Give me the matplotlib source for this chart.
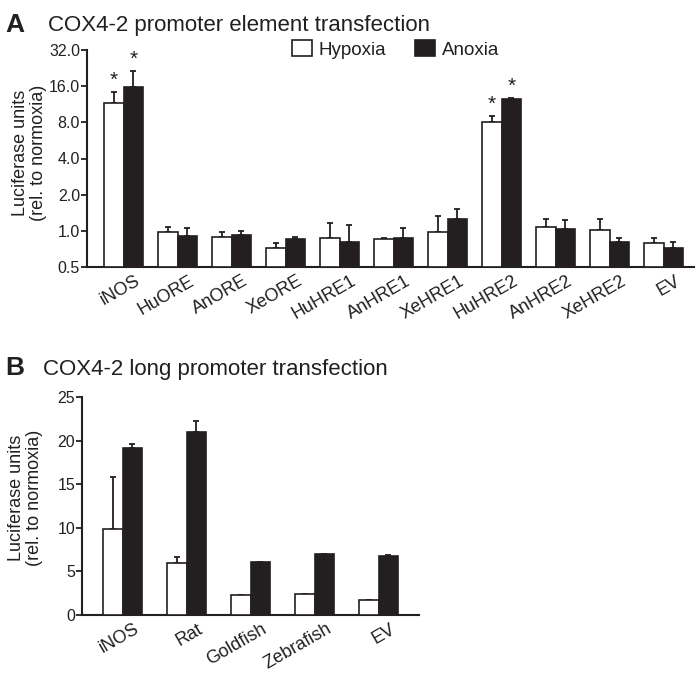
import numpy as np
import matplotlib
matplotlib.use("Agg")
import matplotlib.pyplot as plt
import matplotlib.transforms as mtransforms
from matplotlib.patches import Patch

plt.rcParams['font.family'] = ['Liberation Sans', 'DejaVu Sans']

DARK = "#231f20"

# Panel A: promoter elements (log2 axis)
elements = ["iNOS", "HuORE", "AnORE", "XeORE", "HuHRE1", "AnHRE1",
            "XeHRE1", "HuHRE2", "AnHRE2", "XeHRE2", "EV"]
hyp_a = [11.5, 0.98, 0.89, 0.72, 0.88, 0.85, 0.98, 8.0, 1.07, 1.01, 0.79]
hyp_a_err = [14.2, 1.07, 0.97, 0.79, 1.16, 0.87, 1.33, 9.0, 1.25, 1.25, 0.87]
ano_a = [15.7, 0.905, 0.92, 0.85, 0.81, 0.87, 1.25, 12.5, 1.03, 0.81, 0.72]
ano_a_err = [21.3, 1.06, 1.0, 0.89, 1.12, 1.06, 1.52, 12.7, 1.23, 0.87, 0.81]
sig_hyp_a = [True, False, False, False, False, False, False, True, False, False, False]
sig_ano_a = [True, False, False, False, False, False, False, True, False, False, False]
yticks_a = [0.5, 1.0, 2.0, 4.0, 8.0, 16.0, 32.0]

# Panel B: long promoters (linear axis)
promoters = ["iNOS", "Rat", "Goldfish", "Zebrafish", "EV"]
hyp_b = [9.86, 5.92, 2.25, 2.37, 1.68]
hyp_b_err = [15.86, 6.7, 2.3, 2.42, 1.75]
ano_b = [19.2, 20.95, 6.04, 6.96, 6.8]
ano_b_err = [19.6, 22.25, 6.1, 7.0, 6.85]
yticks_b = [0, 5, 10, 15, 20, 25]

fig = plt.figure(figsize=(6.96, 6.76), dpi=100)
W, H = 696, 676


def px_axes(left, right, top, bottom):
    return fig.add_axes([left / W, 1 - bottom / H, (right - left) / W, (bottom - top) / H])


def style_axes(ax):
    for s in ["top", "right"]:
        ax.spines[s].set_visible(False)
    for s in ["left", "bottom"]:
        ax.spines[s].set_linewidth(1.5)
        ax.spines[s].set_color(DARK)
    ax.tick_params(axis="y", length=4, width=1.3, color=DARK, labelsize=11.5,
                   labelcolor=DARK, pad=1)
    ax.tick_params(axis="x", length=0, labelsize=13, labelcolor=DARK, pad=4)


def draw_pairs(ax, hyp, hyp_err, ano, ano_err, width, base):
    x = np.arange(len(hyp))
    hyp = np.array(hyp)
    ano = np.array(ano)
    ax.bar(x - width / 2, hyp - base, width, bottom=base, color="white",
           edgecolor=DARK, linewidth=1.2, zorder=3)
    ax.bar(x + width / 2, ano - base, width, bottom=base, color=DARK,
           edgecolor=DARK, linewidth=1.2, zorder=3)
    ax.errorbar(x - width / 2, hyp, yerr=[np.zeros_like(hyp), np.array(hyp_err) - hyp],
                fmt="none", ecolor=DARK, elinewidth=1.3, capsize=2.3, capthick=1.3, zorder=2)
    ax.errorbar(x + width / 2, ano, yerr=[np.zeros_like(ano), np.array(ano_err) - ano],
                fmt="none", ecolor=DARK, elinewidth=1.3, capsize=2.3, capthick=1.3, zorder=2)
    return x


def set_labels(ax, x, labels):
    ax.set_xticks(x)
    ax.set_xticklabels(labels, rotation=30, ha="right", rotation_mode="anchor")
    offset = mtransforms.ScaledTranslation(11 / 100, 0, fig.dpi_scale_trans)
    for lab in ax.get_xticklabels():
        lab.set_transform(lab.get_transform() + offset)


# ---- Panel A
axA = px_axes(87, 694, 50, 267)
axA.set_yscale("log", base=2)
wa = 0.36
xa = draw_pairs(axA, hyp_a, hyp_a_err, ano_a, ano_a_err, wa, 0.5)
axA.set_ylim(0.5, 32)
axA.set_xlim(-0.676, 10.56)
axA.set_yticks(yticks_a)
axA.set_yticklabels(["%.1f" % v for v in yticks_a])
axA.yaxis.set_minor_locator(matplotlib.ticker.NullLocator())
style_axes(axA)
set_labels(axA, xa, elements)
for i in range(len(elements)):
    if sig_hyp_a[i]:
        axA.annotate("*", (xa[i] - wa / 2, hyp_a_err[i]), xytext=(0, 2),
                     textcoords="offset points", ha="center", va="bottom",
                     fontsize=15, color=DARK)
    if sig_ano_a[i]:
        axA.annotate("*", (xa[i] + wa / 2, ano_a_err[i]), xytext=(0, 2),
                     textcoords="offset points", ha="center", va="bottom",
                     fontsize=15, color=DARK)
axA.set_ylabel("Luciferase units\n(rel. to normoxia)", fontsize=13, color=DARK,
               linespacing=1.1)
axA.yaxis.set_label_coords(-0.066, 0.525)

handles = [Patch(facecolor="white", edgecolor=DARK, linewidth=1.2, label="Hypoxia"),
           Patch(facecolor=DARK, edgecolor=DARK, linewidth=1.2, label="Anoxia")]
leg = axA.legend(handles=handles, ncol=2, frameon=False, loc="upper left",
                 bbox_to_anchor=(292 / W, 1 - 40 / H), bbox_transform=fig.transFigure,
                 borderpad=0, borderaxespad=0, fontsize=13.5, handlelength=1.07,
                 handleheight=0.96, handletextpad=0.37, columnspacing=1.5)
for t in leg.get_texts():
    t.set_color(DARK)

# ---- Panel B
axB = px_axes(82, 419, 397, 615)
wb = 0.305
xb = draw_pairs(axB, hyp_b, hyp_b_err, ano_b, ano_b_err, wb, 0)
axB.set_ylim(0, 25)
axB.set_xlim(-0.633, 4.63)
axB.set_yticks(yticks_b)
style_axes(axB)
set_labels(axB, xb, promoters)
axB.set_ylabel("Luciferase units\n(rel. to normoxia)", fontsize=13, color=DARK,
               linespacing=1.1)
axB.yaxis.set_label_coords(-0.116, 0.537)

# ---- Panel titles
fig.text(5 / W, 1 - 32 / H, "A", fontsize=19, fontweight="bold", color=DARK, va="baseline")
fig.text(48 / W, 1 - 31 / H, "COX4-2 promoter element transfection", fontsize=16,
         color=DARK, va="baseline")
fig.text(5 / W, 1 - 375 / H, "B", fontsize=19, fontweight="bold", color=DARK, va="baseline")
fig.text(43 / W, 1 - 375 / H, "COX4-2 long promoter transfection", fontsize=16,
         color=DARK, va="baseline")

fig.savefig("out.png", dpi=100)
